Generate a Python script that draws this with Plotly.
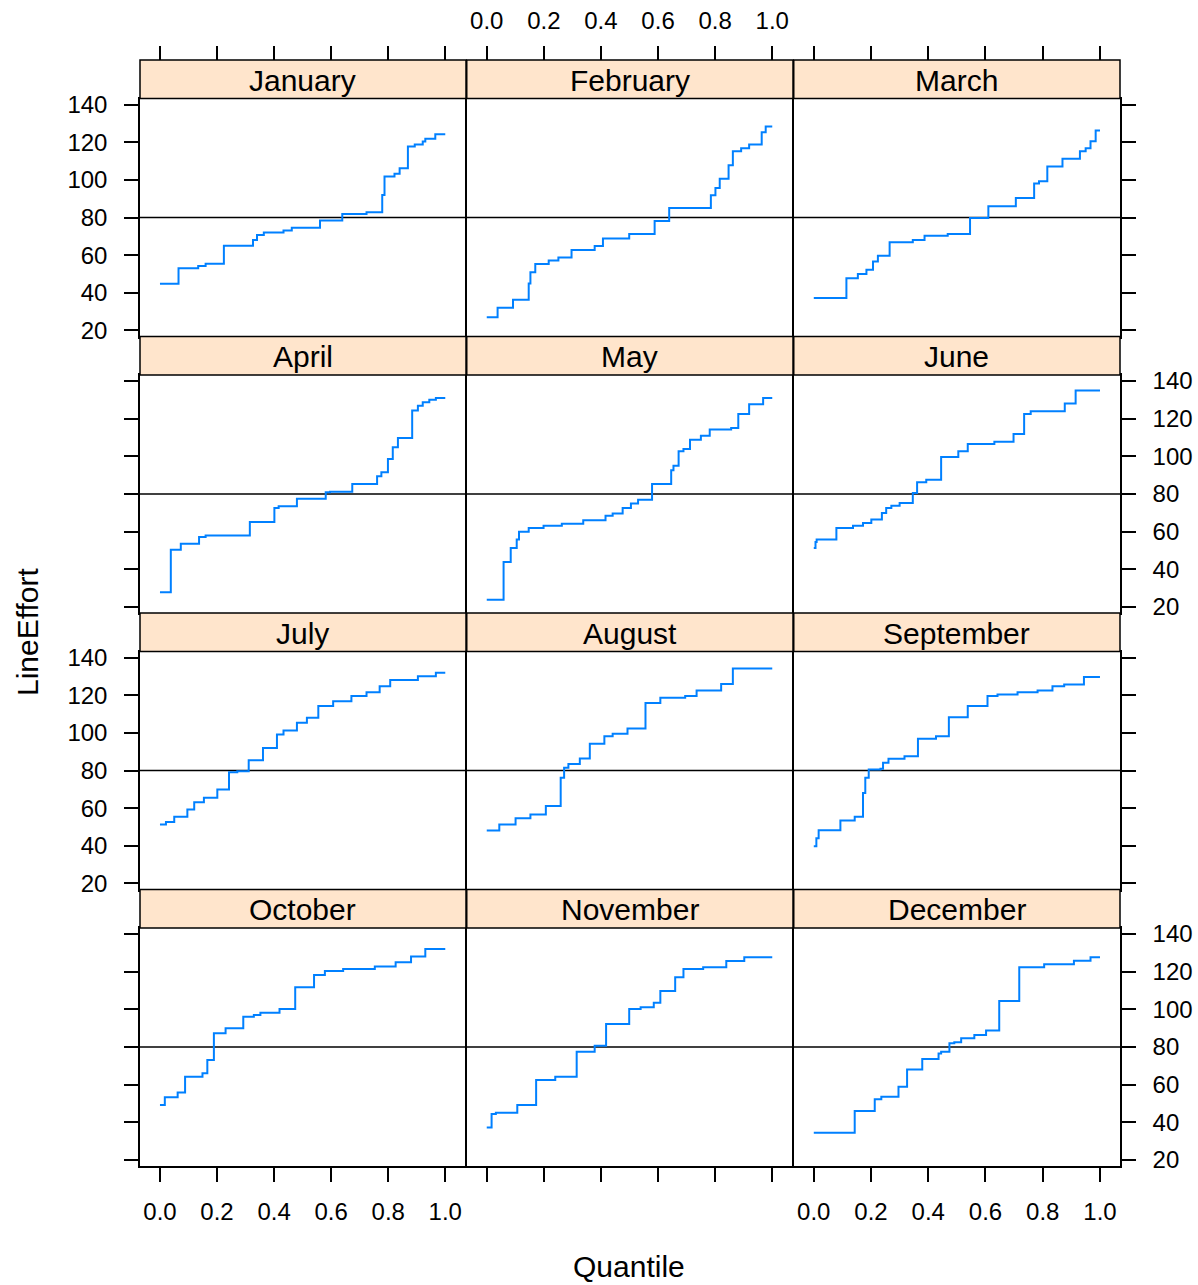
import plotly.graph_objects as go

# ---- data: empirical quantile curves of LineEffort per month ----
months = ["January", "February", "March", "April", "May", "June",
          "July", "August", "September", "October", "November", "December"]

jan_q = [0, 0.065, 0.134, 0.160, 0.224, 0.326, 0.340, 0.364, 0.433, 0.462, 0.561, 0.639,
         0.724, 0.779, 0.787, 0.822, 0.840, 0.869, 0.893, 0.921, 0.930, 0.965, 1.0]
jan_v = [44.8, 53.0, 54.3, 55.5, 65.0, 68.0, 70.7, 72.1, 73.1, 74.5, 78.4, 81.8,
         82.8, 92.0, 101.8, 103.3, 106.1, 117.7, 118.8, 120.4, 121.8, 124.2, 124.2]

feb_q = [0, 0.038, 0.092, 0.147, 0.153, 0.170, 0.217, 0.251, 0.297, 0.378, 0.407, 0.499,
         0.588, 0.639, 0.785, 0.801, 0.816, 0.847, 0.862, 0.891, 0.919, 0.963, 0.977, 1.0]
feb_v = [27.0, 32.1, 36.3, 45.0, 50.9, 55.3, 57.1, 58.7, 62.7, 64.8, 68.9, 71.2,
         78.2, 85.1, 91.8, 95.7, 100.6, 107.7, 115.2, 116.8, 118.8, 125.3, 128.3, 128.3]

mar_q = [0, 0.114, 0.154, 0.184, 0.207, 0.224, 0.265, 0.346, 0.387, 0.468, 0.546, 0.610,
         0.706, 0.770, 0.787, 0.816, 0.869, 0.930, 0.950, 0.967, 0.985, 1.0]
mar_v = [37.2, 47.8, 50.0, 52.2, 56.6, 59.7, 66.8, 68.0, 70.3, 71.2, 79.8, 86.0,
         90.4, 98.0, 99.2, 107.1, 111.2, 115.2, 116.8, 120.5, 126.2, 126.2]

apr_q = [0, 0.038, 0.073, 0.137, 0.160, 0.315, 0.401, 0.416, 0.480, 0.581, 0.596, 0.674,
         0.761, 0.776, 0.799, 0.816, 0.834, 0.884, 0.904, 0.921, 0.944, 0.967, 1.0]
apr_v = [27.8, 50.4, 53.6, 57.2, 57.9, 65.1, 72.6, 73.5, 77.5, 80.9, 81.2, 85.3,
         89.4, 91.5, 98.6, 104.8, 109.7, 124.4, 126.9, 128.7, 130.1, 131.0, 131.0]

may_q = [0, 0.059, 0.084, 0.105, 0.113, 0.147, 0.199, 0.263, 0.338, 0.416, 0.441, 0.476,
         0.505, 0.530, 0.579, 0.646, 0.654, 0.672, 0.689, 0.712, 0.750, 0.781, 0.856,
         0.881, 0.919, 0.968, 1.0]
may_v = [23.9, 43.9, 51.3, 55.8, 60.0, 61.9, 63.2, 64.2, 66.0, 68.5, 69.7, 72.6,
         74.9, 77.0, 85.3, 92.6, 95.0, 102.7, 103.9, 108.8, 111.0, 114.2, 115.0,
         122.5, 127.6, 131.0, 131.0]

jun_q = [0, 0.006, 0.010, 0.079, 0.137, 0.172, 0.201, 0.238, 0.253, 0.271, 0.300, 0.346,
         0.361, 0.393, 0.445, 0.505, 0.538, 0.631, 0.698, 0.735, 0.758, 0.877, 0.915, 1.0]
jun_v = [51.3, 54.5, 55.8, 61.9, 63.2, 64.6, 66.4, 69.9, 72.6, 73.8, 75.2, 80.5,
         86.2, 87.6, 99.6, 102.7, 106.5, 107.8, 111.9, 122.5, 123.9, 128.0, 135.0, 135.0]

jul_q = [0, 0.021, 0.050, 0.096, 0.120, 0.154, 0.201, 0.242, 0.271, 0.311, 0.361, 0.410,
         0.433, 0.480, 0.515, 0.555, 0.607, 0.671, 0.724, 0.770, 0.807, 0.904, 0.967, 1.0]
jul_v = [51.3, 52.6, 55.4, 59.3, 63.2, 65.5, 69.9, 79.1, 79.6, 85.5, 92.0, 99.1,
         101.2, 105.3, 108.0, 114.2, 116.8, 119.5, 121.6, 124.8, 128.0, 130.1, 131.9, 131.9]

aug_q = [0, 0.044, 0.101, 0.153, 0.207, 0.259, 0.271, 0.286, 0.326, 0.361, 0.412, 0.441,
         0.493, 0.556, 0.608, 0.695, 0.735, 0.821, 0.862, 1.0]
aug_v = [48.1, 51.3, 54.7, 56.6, 61.1, 76.1, 81.4, 83.5, 86.4, 94.2, 98.2, 99.5,
         102.3, 115.8, 118.6, 119.5, 122.5, 126.0, 134.2, 134.2]

sep_q = [0, 0.009, 0.017, 0.093, 0.143, 0.172, 0.180, 0.192, 0.233, 0.242, 0.261, 0.317,
         0.364, 0.427, 0.472, 0.538, 0.607, 0.642, 0.712, 0.782, 0.834, 0.875, 0.944, 1.0]
sep_v = [39.8, 44.0, 48.3, 53.5, 55.4, 68.0, 76.1, 80.5, 80.9, 84.1, 86.2, 87.6,
         96.8, 98.2, 108.3, 114.2, 119.5, 120.4, 121.6, 122.5, 124.8, 125.7, 129.7, 129.7]

oct_q = [0, 0.017, 0.062, 0.088, 0.149, 0.166, 0.189, 0.230, 0.292, 0.329, 0.352, 0.419,
         0.474, 0.540, 0.578, 0.642, 0.753, 0.826, 0.880, 0.930, 1.0]
oct_v = [49.2, 53.3, 55.8, 64.2, 66.0, 73.1, 87.3, 89.9, 96.1, 97.0, 98.2, 100.2,
         111.7, 118.2, 120.4, 121.4, 122.7, 125.0, 128.0, 132.0, 132.0]

nov_q = [0, 0.017, 0.032, 0.107, 0.173, 0.240, 0.315, 0.378, 0.418, 0.499, 0.539, 0.585,
         0.608, 0.660, 0.689, 0.758, 0.839, 0.902, 1.0]
nov_v = [37.3, 44.4, 45.1, 49.2, 62.5, 64.2, 77.5, 80.7, 92.2, 100.2, 101.1, 103.5,
         109.7, 117.0, 121.4, 122.3, 125.7, 127.6, 127.6]

dec_q = [0, 0.143, 0.213, 0.236, 0.296, 0.326, 0.379, 0.436, 0.445, 0.474, 0.491, 0.515,
         0.561, 0.602, 0.648, 0.718, 0.805, 0.909, 0.967, 1.0]
dec_v = [34.5, 46.0, 52.2, 53.6, 58.9, 68.1, 73.6, 76.6, 77.5, 82.0, 82.5, 84.6,
         86.4, 88.7, 104.4, 122.3, 123.9, 125.8, 127.6, 127.6]

quantiles = [jan_q, feb_q, mar_q, apr_q, may_q, jun_q, jul_q, aug_q, sep_q, oct_q, nov_q, dec_q]
efforts = [jan_v, feb_v, mar_v, apr_v, may_v, jun_v, jul_v, aug_v, sep_v, oct_v, nov_v, dec_v]

ref_level = 80
x_ticks = [0.0, 0.2, 0.4, 0.6, 0.8, 1.0]
x_tick_text = ["0.0", "0.2", "0.4", "0.6", "0.8", "1.0"]
y_ticks = [20, 40, 60, 80, 100, 120, 140]

# ---- page geometry (pixels) ----
W, H = 1198, 1285
FRAME_W = 1.5
# axis lines sit just outside each plot area, so neighbouring columns are
# spaced by one line width to let their shared border coincide
col_edges = [(140, 465.25), (466.75, 792.25), (793.75, 1120)]
TOP = 60
STRIP_H = 38.5
PANEL_H = 238
ROW_H = STRIP_H + PANEL_H
X_RANGE = [-0.07, 1.07]
Y_RANGE = [16.8, 143.2]

FONT = "Liberation Sans, Arial, sans-serif"
TICK_FONT = dict(family=FONT, size=24, color="black")
TITLE_SIZE = 30
STRIP_BG = "#FFE5CC"
LINE_COL = "#0080FF"
TICK_LEN = 14


def px_x(x):
    return x / W


def px_y(y):
    return 1 - y / H


def sfx(k):
    # plotly names the first axis "x"/"y", the rest "x2", "y2", ...
    return "" if k == 1 else str(k)


fig = go.Figure()
layout = dict(
    width=W, height=H,
    margin=dict(l=0, r=0, t=0, b=0, pad=0, autoexpand=False),
    paper_bgcolor="white", plot_bgcolor="white",
    showlegend=False,
    font=dict(family=FONT, color="black"),
)
shapes = []
annotations = []

for i, month in enumerate(months):
    r, c = divmod(i, 3)
    k = i + 1
    s = sfx(k)
    x0, x1 = col_edges[c]
    strip_top = TOP + r * ROW_H
    panel_top = strip_top + STRIP_H
    panel_bot = panel_top + PANEL_H

    xa = dict(
        domain=[px_x(x0), px_x(x1)], range=X_RANGE, anchor=f"y{s}",
        showgrid=False, zeroline=False, showline=True, mirror=True,
        linecolor="black", linewidth=FRAME_W, automargin=False,
        tickvals=x_ticks, ticktext=x_tick_text, tickfont=TICK_FONT,
        ticks="outside" if r == 3 else "", ticklen=TICK_LEN, tickwidth=FRAME_W,
        tickcolor="black",
        showticklabels=(r == 3 and c != 1), ticklabelstandoff=9,
    )
    ya = dict(
        domain=[px_y(panel_bot), px_y(panel_top)], range=Y_RANGE, anchor=f"x{s}",
        showgrid=False, zeroline=False, showline=True, mirror=True,
        linecolor="black", linewidth=FRAME_W, automargin=False,
        tickvals=y_ticks, tickfont=TICK_FONT, ticklen=TICK_LEN, tickwidth=FRAME_W,
        tickcolor="black",
        ticks="outside" if c != 1 else "",
        side="right" if c == 2 else "left",
        showticklabels=(c == 0 and r in (0, 2)) or (c == 2 and r in (1, 3)),
        ticklabelstandoff=12,
    )
    layout[f"xaxis{s}"] = xa
    layout[f"yaxis{s}"] = ya

    fig.add_trace(go.Scatter(
        x=quantiles[i], y=efforts[i], mode="lines", line_shape="hv",
        line=dict(color=LINE_COL, width=2),
        xaxis=f"x{s}", yaxis=f"y{s}", hoverinfo="x+y",
    ))

    # horizontal reference line at 80
    shapes.append(dict(
        type="line", xref=f"x{s} domain", yref=f"y{s}", x0=0, x1=1,
        y0=ref_level, y1=ref_level, line=dict(color="black", width=FRAME_W),
        layer="below",
    ))

    # strip with month name
    shapes.append(dict(
        type="rect", xref="paper", yref="paper",
        x0=px_x(x0), x1=px_x(x1 + FRAME_W / 2) if c < 2 else px_x(x1),
        y0=px_y(panel_top), y1=px_y(strip_top),
        fillcolor=STRIP_BG, line=dict(color="black", width=FRAME_W), layer="above",
    ))
    annotations.append(dict(
        text=month, xref="paper", yref="paper",
        x=px_x((x0 + x1) / 2), y=px_y(strip_top + STRIP_H / 2 + 1),
        xanchor="center", yanchor="middle", showarrow=False,
        font=dict(family=FONT, size=TITLE_SIZE, color="black"),
    ))

# tick marks above the top strips (labels only on the middle column)
for c in range(3):
    k = 13 + c
    base = sfx(c + 1)
    layout[f"xaxis{k}"] = dict(
        overlaying=f"x{base}", anchor="free", position=px_y(TOP), side="top",
        range=X_RANGE, showgrid=False, zeroline=False, showline=False,
        automargin=False,
        tickvals=x_ticks, ticktext=x_tick_text, tickfont=TICK_FONT,
        ticks="outside", ticklen=TICK_LEN, tickwidth=FRAME_W, tickcolor="black",
        showticklabels=(c == 1), ticklabelstandoff=7,
    )
    fig.add_trace(go.Scatter(
        x=[None], y=[None], mode="lines", xaxis=f"x{k}", yaxis=f"y{base}",
        hoverinfo="skip", showlegend=False,
    ))

annotations.append(dict(
    text="LineEffort", xref="paper", yref="paper", x=px_x(27), y=px_y(632),
    textangle=-90, xanchor="center", yanchor="middle", showarrow=False,
    font=dict(family=FONT, size=TITLE_SIZE, color="black"),
))
annotations.append(dict(
    text="Quantile", xref="paper", yref="paper", x=px_x(629), y=px_y(1266),
    xanchor="center", yanchor="middle", showarrow=False,
    font=dict(family=FONT, size=TITLE_SIZE, color="black"),
))

layout["shapes"] = shapes
layout["annotations"] = annotations
fig.update_layout(**layout)
fig.write_html("out.html")
